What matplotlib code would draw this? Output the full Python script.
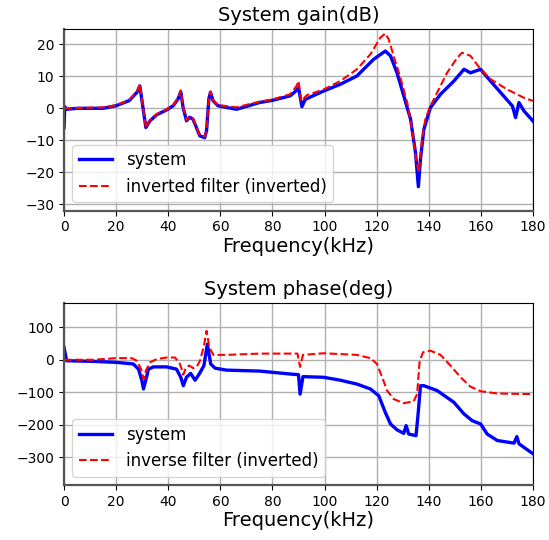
import numpy as np
import matplotlib
matplotlib.use("Agg")
import matplotlib.pyplot as plt

# gain (dB)
gain_f_sys = [0, 0.3, 1, 5, 10, 15, 20, 25, 28, 29.1, 30.1, 31.4, 33, 35.6, 39.4, 41.9, 43.8, 44.8,
              45.7, 47, 48.2, 49.5, 50.8, 52.1, 54, 54.7, 55.6, 56.2, 57.2, 59.1, 62.3, 66.2, 75, 80,
              86.8, 89.1, 90, 91.3, 92.6, 99.6, 106, 112.4, 118.8, 123.3, 125.3, 127.8, 130.4, 133,
              134.9, 136, 136.8, 138.1, 140.6, 144.5, 149.6, 153.5, 156, 159.9, 163.7, 167.6, 172.1,
              173.3, 174.6, 176.5, 180]
gain_sys = [-6, 0.5, -0.3, 0, 0, 0, 0.8, 2.4, 5.0, 7.0, 1.4, -6.0, -3.9, -2.0, -0.5, 0.8, 3.0, 5.2,
            0.3, -3.9, -2.8, -3.4, -6.0, -8.6, -9.2, -7.0, 3.0, 5.0, 2.4, 0.8, 0.3, -0.3, 1.8, 2.5,
            3.9, 5.5, 6.5, 0.5, 2.8, 5.4, 7.5, 10.1, 15.3, 17.9, 16.4, 11.1, 3.9, -3.4,
            -13.9, -24.5, -15.9, -6.6, 0.2, 4.4, 8.5, 12.2, 11.1, 12.2, 8.5, 4.9, 0.7,
            -2.9, 1.8, -0.8, -4]
gain_f_inv = [0, 15, 20, 25, 28, 29.1, 30.1, 31.4, 33, 35.6, 39.4, 41.9, 43.8, 44.8, 45.7, 47, 48.2,
              49.5, 50.8, 52.1, 54, 54.7, 55.6, 56.2, 57.2, 59.1, 62.3, 66.2, 75, 80, 86.8, 89.1, 90,
              91, 93.2, 99.6, 106, 112.4, 117.6, 121.4, 123.3, 124.6, 126.5, 129.1, 131.7, 133.6,
              135.3, 136.2, 137.4, 138.7, 140.6, 143.2, 147, 150.9, 152.8, 156, 159.9, 163.7, 170.1,
              176.5, 180]
gain_inv = [0, 0.3, 1.0, 2.6, 5.3, 7.6, 1.6, -6.0, -3.7, -1.8, -0.3, 1.0, 3.2, 5.6, 0.5, -3.7, -2.6,
            -3.2, -5.8, -8.4, -8.9, -6.8, 3.2, 5.3, 2.6, 1.0, 0.7, 0.3, 2.1, 2.8, 4.4, 6.8, 8.5,
            2.3, 4.1, 5.9, 8.5, 12.2, 16.9, 22.1, 23.4, 21.6, 16.4, 9.6, 1.8, -6.6,
            -17, -20, -9.7, -3.4, 0.7, 4.9, 11.1, 15.8, 17.4, 16.4, 12.2, 9.1, 5.9,
            3.3, 2.3]

# phase (deg)
phase_f_sys = [0, 1, 11.3, 20, 26.6, 28.6, 29.9, 30.5, 31.5, 32.4, 34.3, 39.4, 43.2, 44.8, 45.8, 47,
               48.6, 50.3, 51.9, 53.7, 55, 56.3, 58, 62.4, 75.2, 86.8, 90, 90.6, 91.7, 99.6, 106,
               112.4, 117.6, 120.8, 123.3, 125.3, 127.8, 130.4, 131.3, 132.3, 135.1, 135.9, 136.8,
               138.1, 143.2, 149.6, 153.5, 156.7, 159.9, 162.4, 166.3, 172.7, 173.8, 174.6, 180]
phase_sys = [38, -3, -5, -8, -13, -29, -65, -90, -59, -29, -22, -22, -29, -54, -80, -54,
             -42, -63, -44, -18, 48, -13, -26, -32, -35, -44, -46, -106, -52, -54, -63,
             -75, -90, -111, -162, -198, -216, -227, -203, -229, -234, -167, -80,
             -80, -95, -131, -167, -188, -198, -229, -249, -257, -237, -259, -290]
phase_f_inv = [0, 11.3, 20, 26, 27.9, 29.6, 30.5, 31.5, 33, 35.6, 39.4, 42.6, 44.5, 45.8, 46.8, 48.1,
               49.6, 50.9, 52.2, 53.7, 54.7, 55.8, 57.3, 62.4, 75.2, 89.6, 90.6, 91.7, 99.6, 112.4,
               117.6, 120.1, 122.1, 124, 126.5, 130.4, 134.2, 135.5, 136.5, 137.8, 140.6, 144.5,
               148.3, 152.2, 156, 159.9, 166.3, 180]
phase_inv = [0, 0, 5, 5, -3, -29, -59, -32, -8, 2, 7, 7, -13, -46, -24, -18,
             -26, -22, -3, 43, 89, 38, 15, 15, 19, 19, -22, 15, 20, 15,
             5, -13, -54, -95, -121, -134, -128, -106, -3, 23, 28, 15,
             -18, -54, -83, -97, -104, -106]

fig, (ax1, ax2) = plt.subplots(2, 1, figsize=(5.49, 5.4), dpi=100)
fig.subplots_adjust(left=0.1166, right=0.9709, top=0.9463, bottom=0.1019, hspace=0.51)

def style(ax):
    ax.set_xlim(0, 180)
    ax.set_xticks(np.arange(0, 181, 20))
    ax.grid(True, color='#b0b0b0', lw=1)
    ax.tick_params(labelsize=10)
    for s in ['left', 'bottom']:
        ax.spines[s].set_color('#555555')
        ax.spines[s].set_linewidth(1.6)
    ax.set_xlabel("Frequency(kHz)", fontsize=14, labelpad=2)

ax1.plot(gain_f_sys, gain_sys, color='blue', lw=2.4, label='system')
ax1.plot(gain_f_inv, gain_inv, 'r--', lw=1.5, label='inverted filter (inverted)')
ax1.set_title("System gain(dB)", fontsize=14)
ax1.set_ylim(-32, 24.8)
ax1.set_yticks([-30, -20, -10, 0, 10, 20])
style(ax1)
ax1.legend(loc='lower left', fontsize=12)

ax2.plot(phase_f_sys, phase_sys, color='blue', lw=2.4, label='system')
ax2.plot(phase_f_inv, phase_inv, 'r--', lw=1.5, label='inverse filter (inverted)')
ax2.set_title("System phase(deg)", fontsize=14)
ax2.set_ylim(-386, 174)
ax2.set_yticks([-300, -200, -100, 0, 100])
style(ax2)
ax2.legend(loc='lower left', fontsize=12)

fig.savefig("out.png", dpi=100)
